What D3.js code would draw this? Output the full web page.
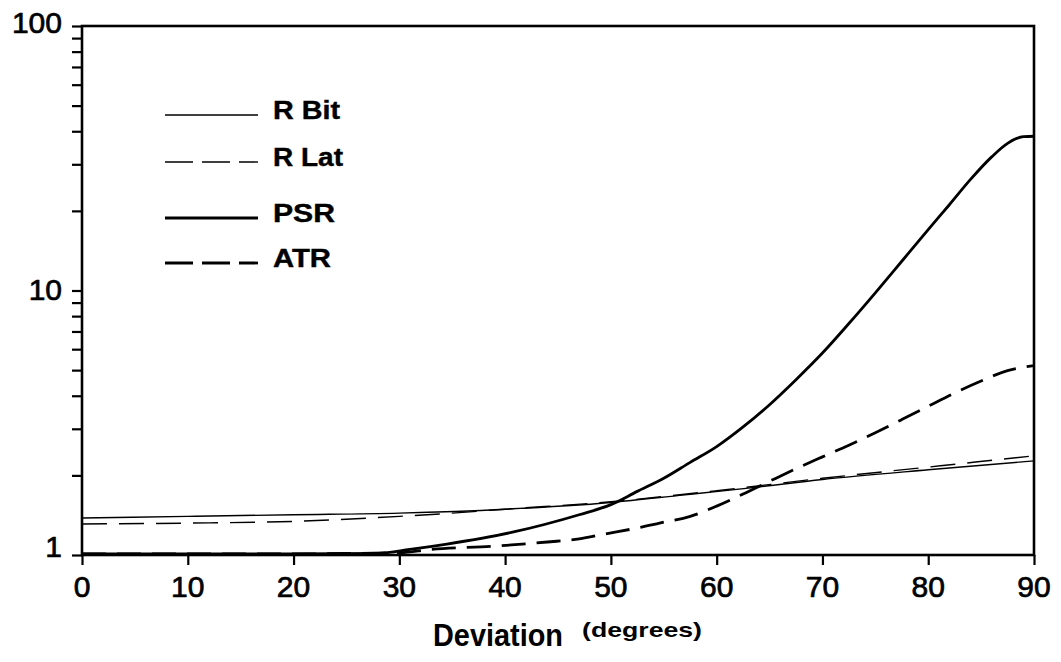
<!DOCTYPE html>
<html>
<head>
<meta charset="utf-8">
<script src="https://cdn.jsdelivr.net/npm/d3@7"></script>
<style>
body { margin: 0; background: #fff; }
svg { display: block; font-family: "Liberation Sans", Arial, sans-serif; }
</style>
</head>
<body>
<script>

// values (deviation in degrees -> ratio)
var rBitX = [0, 10, 20, 30, 40, 50, 56.5, 63, 70, 80, 90];
var rBitY = [1.38, 1.40, 1.42, 1.44, 1.49, 1.58, 1.68, 1.79, 1.93, 2.10, 2.27];

var rLatX = [0, 10, 20, 30, 35, 40, 50, 60, 70, 80, 90];
var rLatY = [1.31, 1.32, 1.34, 1.40, 1.44, 1.49, 1.59, 1.75, 1.95, 2.15, 2.37];

var psrX = [0, 10, 20, 28, 31, 34.5, 40.7, 47, 50, 52.5, 55, 57.5, 60, 62.5, 65, 67.5, 70, 72.5, 75, 77.5, 80, 82, 84, 86, 87.5, 89, 90];
var psrY = [1.01, 1.01, 1.01, 1.015, 1.05, 1.1, 1.22, 1.42, 1.55, 1.74, 1.95, 2.24, 2.57, 3.05, 3.7, 4.6, 5.8, 7.5, 9.8, 12.9, 17, 21.1, 26.3, 32, 36, 38.2, 38.3];

var atrX = [0, 10, 20, 30, 33, 39, 44, 47, 49.4, 52.7, 54.6, 57.5, 60, 62.5, 65, 67.5, 70, 72.5, 75, 77.5, 80, 82.5, 85, 87.5, 90];
var atrY = [1.01, 1.01, 1.01, 1.02, 1.05, 1.08, 1.12, 1.15, 1.2, 1.27, 1.32, 1.40, 1.53, 1.70, 1.90, 2.12, 2.35, 2.6, 2.9, 3.25, 3.65, 4.1, 4.55, 4.98, 5.2];

var xTicks = [0, 10, 20, 30, 40, 50, 60, 70, 80, 90];
var yTicks = [1, 10, 100];

var series = [
  { name: "R Bit", xs: rBitX, ys: rBitY, width: 1.4, dash: null },
  { name: "R Lat", xs: rLatX, ys: rLatY, width: 1.4, dash: "25,12" },
  { name: "PSR",   xs: psrX,  ys: psrY,  width: 2.8, dash: null },
  { name: "ATR",   xs: atrX,  ys: atrY,  width: 2.8, dash: "24,11" }
];

var width = 1061,
    height = 662;

var svg = d3.select("body")
    .append("svg")
    .attr("width", width)
    .attr("height", height);

var x = d3.scaleLinear().domain([0, 90]).range([82, 1034]);
var y = d3.scaleLog().domain([1, 100]).range([555, 26]);

// minor ticks 1..100
var minor = [];
for (var dec = 1; dec < 100; dec *= 10) {
  for (var k = 1; k < 10; k++) minor.push(dec * k);
}
minor.push(100);

svg.append("g")
    .attr("transform", "translate(" + x(0) + ",0)")
    .call(d3.axisLeft(y).tickValues(minor).tickSize(10).tickFormat(""))
    .call(function(g) {
      g.select(".domain").remove();
      g.selectAll("line").attr("stroke-width", 2.2);
    });

svg.append("g")
    .attr("transform", "translate(0," + y(1) + ")")
    .call(d3.axisBottom(x).tickValues(xTicks).tickSize(10).tickFormat(""))
    .call(function(g) {
      g.select(".domain").remove();
      g.selectAll("line").attr("stroke-width", 2.2);
    });

// frame
svg.append("rect")
    .attr("x", x(0))
    .attr("y", y(100))
    .attr("width", x(90) - x(0))
    .attr("height", y(1) - y(100))
    .attr("fill", "none")
    .attr("stroke", "#000")
    .attr("stroke-width", 2.6);

// tick labels
svg.selectAll(".xl")
    .data(xTicks)
    .enter().append("text")
    .attr("class", "xl")
    .attr("x", function(d) { return x(d); })
    .attr("y", 597)
    .attr("text-anchor", "middle")
    .attr("font-size", 30)
    .attr("stroke", "#000")
    .attr("stroke-width", 0.7)
    .text(function(d) { return d; });

svg.selectAll(".yl")
    .data(yTicks)
    .enter().append("text")
    .attr("class", "yl")
    .attr("x", 62)
    .attr("y", function(d) { return y(d) + (d === 1 ? 2 : d === 10 ? 9 : 7); })
    .attr("text-anchor", "end")
    .attr("font-size", 30)
    .attr("stroke", "#000")
    .attr("stroke-width", 0.7)
    .text(function(d) { return d; });

// axis title
svg.append("text")
    .attr("x", 433)
    .attr("y", 646)
    .attr("font-size", 32)
    .attr("font-weight", "bold")
    .attr("textLength", 130)
    .attr("lengthAdjust", "spacingAndGlyphs")
    .text("Deviation");

svg.append("text")
    .attr("x", 582)
    .attr("y", 637)
    .attr("font-size", 21)
    .attr("font-weight", "bold")
    .attr("textLength", 120)
    .attr("lengthAdjust", "spacingAndGlyphs")
    .text("(degrees)");

// curves
var line = d3.line()
    .x(function(d) { return x(d[0]); })
    .y(function(d) { return y(d[1]); })
    .curve(d3.curveMonotoneX);

svg.selectAll(".curve")
    .data(series)
    .enter().append("path")
    .attr("class", "curve")
    .attr("d", function(s) { return line(d3.zip(s.xs, s.ys)); })
    .attr("fill", "none")
    .attr("stroke", "#000")
    .attr("stroke-width", function(s) { return s.width; })
    .attr("stroke-dasharray", function(s) { return s.dash; });

// legend
var legendY = [115, 162, 218, 263];
var legendW = [67, 70, 62, 58];

var legend = svg.selectAll(".leg")
    .data(series)
    .enter().append("g")
    .attr("class", "leg")
    .attr("transform", function(d, i) { return "translate(0," + legendY[i] + ")"; });

legend.append("line")
    .attr("x1", 165)
    .attr("x2", 258)
    .attr("stroke", "#000")
    .attr("stroke-width", function(s) { return s.width; })
    .attr("stroke-dasharray", function(s) { return s.dash ? "28,9" : null; });

legend.append("text")
    .attr("x", 273)
    .attr("y", 4)
    .attr("font-size", 25)
    .attr("font-weight", "bold")
    .attr("stroke", "#000")
    .attr("stroke-width", 0.4)
    .attr("textLength", function(d, i) { return legendW[i]; })
    .attr("lengthAdjust", "spacingAndGlyphs")
    .text(function(s) { return s.name; });

</script>
</body>
</html>
